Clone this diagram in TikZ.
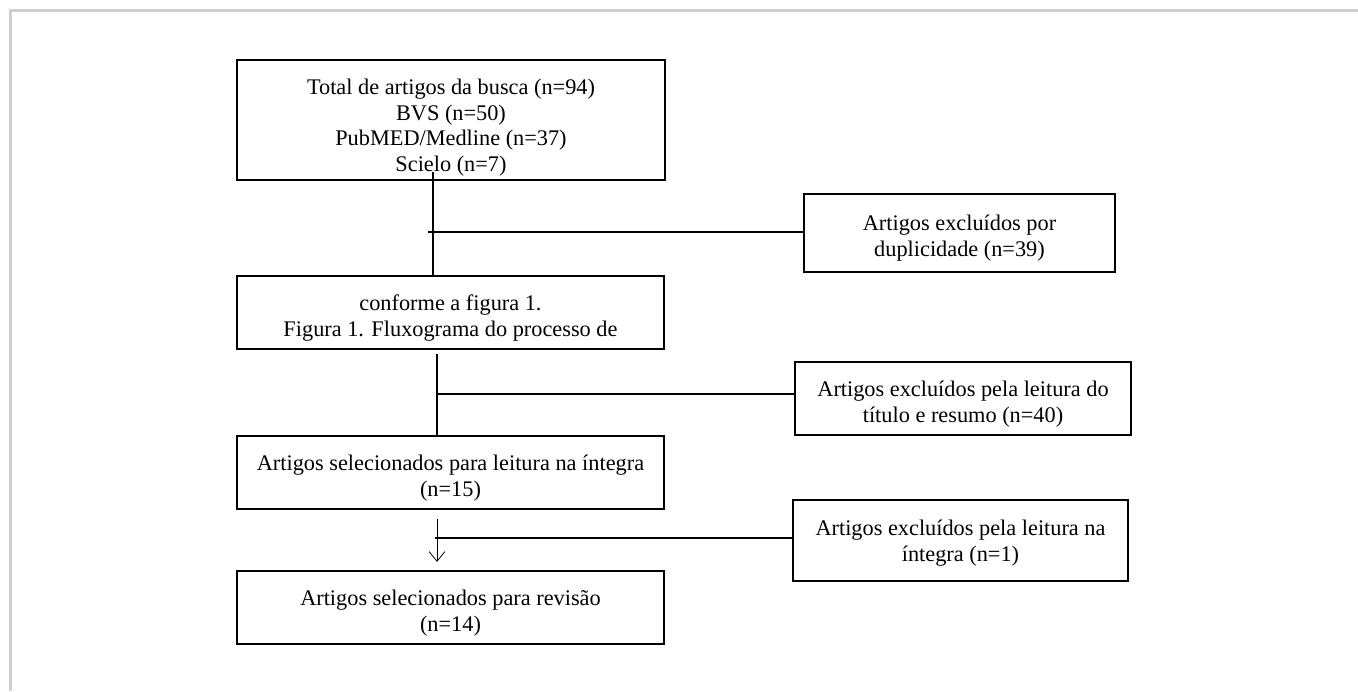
\documentclass[tikz,border=0pt]{standalone}
\usepackage{fontspec}
\setmainfont{Liberation Serif}
\usetikzlibrary{arrows.meta}
\definecolor{framegray}{HTML}{CFCFCF}
\newcommand{\tstrut}[1][15pt]{\rule{0pt}{#1}}
\tikzset{
  box/.style={draw, line width=1.3pt, align=center, inner sep=2pt,
    font=\fontsize{12.7}{14.6}\selectfont},
  conn/.style={line width=1.1pt},
  thinconn/.style={line width=0.45pt}
}
\begin{document}
\begin{tikzpicture}[x=0.02cm, y=-0.02cm]
  \useasboundingbox (0,0) rectangle (1358,691);
  \draw[framegray, line width=0.06cm] (10.5,691) |- (1358,10.5);
  \node[box, minimum width=8.56cm, minimum height=2.4cm] (b1) at (451,120)
    {\tstrut[17.5pt]Total de artigos da busca (n=94)\\BVS (n=50)\\PubMED/Medline (n=37)\\Scielo (n=7)};
  \node[box, minimum width=8.54cm, minimum height=1.46cm] (b2) at (450.5,312.5)
    {\tstrut conforme a figura 1.\\Figura 1. Fluxograma do processo de};
  \node[box, minimum width=8.54cm, minimum height=1.46cm] (b3) at (450.5,472.5)
    {\tstrut Artigos selecionados para leitura na íntegra\\(n=15)};
  \node[box, minimum width=8.54cm, minimum height=1.46cm] (b4) at (450.5,607.5)
    {\tstrut Artigos selecionados para revisão\\(n=14)};
  \node[box, minimum width=6.22cm, minimum height=1.56cm] (e1) at (959.5,233)
    {\tstrut Artigos excluídos por\\duplicidade (n=39)};
  \node[box, minimum width=6.72cm, minimum height=1.46cm] (e2) at (963,398.5)
    {\tstrut Artigos excluídos pela leitura do\\título e resumo (n=40)};
  \node[box, minimum width=6.7cm, minimum height=1.62cm] (e3) at (960.5,540.5)
    {\tstrut[12pt]Artigos excluídos pela leitura na\\íntegra (n=1)};
  \coordinate (s1) at (433,172);
  \coordinate (j1) at (428,232);
  \coordinate (s2) at (437,354);
  \coordinate (j2) at (437,394);
  \coordinate (s3) at (437,519);
  \coordinate (j3) at (435,538);
  \begin{scope}[conn]
    \draw (s1) -- (s1 |- b2.north);
    \draw (j1) -- (j1 -| e1.west);
    \draw (s2) -- (s2 |- b3.north);
    \draw (j2) -- (j2 -| e2.west);
    \draw (j3) -- (j3 -| e3.west);
  \end{scope}
  \draw[thinconn, -{Straight Barb[length=5.5pt, width=9pt]}] (s3) -- ([yshift=0.16cm]s3 |- b4.north);
\end{tikzpicture}
\end{document}
